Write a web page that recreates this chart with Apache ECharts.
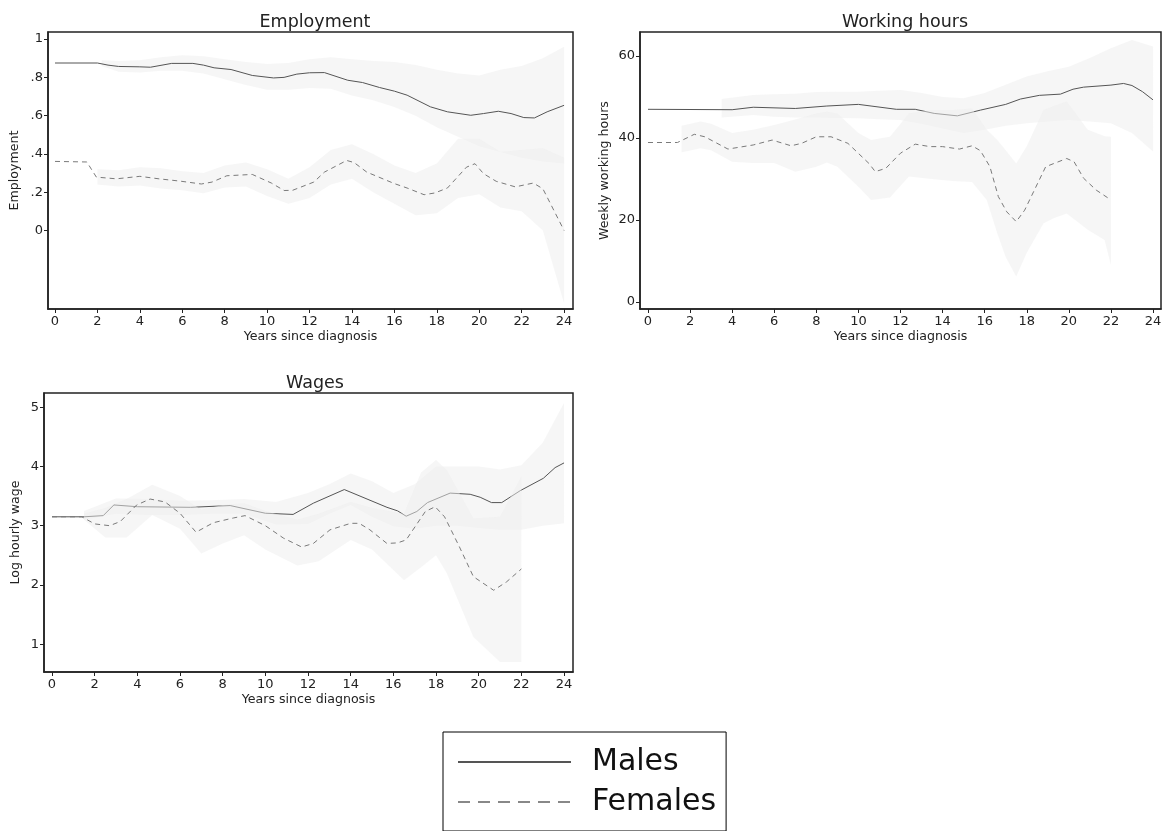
<!DOCTYPE html>
<html>
<head>
<meta charset="utf-8">
<script src="https://cdn.jsdelivr.net/npm/echarts@6/dist/echarts.min.js"></script>
<style>
  html, body { margin: 0; padding: 0; background: #fff; }
  #chart { width: 1165px; height: 831px; }
</style>
</head>
<body>
<div id="chart"></div>
<script>
// data (years since diagnosis on x)
const yearTicks = [0, 2, 4, 6, 8, 10, 12, 14, 16, 18, 20, 22, 24]

// Employment
const empMaleX = [0, 2, 2.5, 3, 4, 4.5, 5.5, 6.5, 7, 7.5, 8.3, 9.3, 10.3, 10.8, 11.4, 12, 12.7, 13.8, 14.5, 15.3, 16, 16.6, 17.7, 18.5, 19.6, 20.2, 20.9, 21.5, 22.1, 22.6, 23.2, 24]
const empMale = [0.875, 0.875, 0.864, 0.857, 0.855, 0.853, 0.873, 0.873, 0.864, 0.85, 0.841, 0.81, 0.797, 0.8, 0.817, 0.824, 0.825, 0.785, 0.773, 0.747, 0.728, 0.707, 0.646, 0.62, 0.602, 0.611, 0.623, 0.611, 0.59, 0.588, 0.62, 0.654]
const empFemaleX = [0, 1.5, 1.95, 2.9, 4, 4.9, 5.9, 6.9, 7.4, 8.1, 9.3, 10.2, 10.8, 11.2, 12.2, 12.7, 13.75, 14.1, 14.7, 16, 16.6, 17.4, 17.9, 18.5, 19.4, 19.8, 20.2, 20.8, 21.7, 22.55, 23, 24]
const empFemale = [0.361, 0.358, 0.279, 0.27, 0.283, 0.27, 0.258, 0.243, 0.253, 0.286, 0.293, 0.248, 0.209, 0.21, 0.253, 0.305, 0.366, 0.355, 0.305, 0.245, 0.222, 0.187, 0.196, 0.222, 0.331, 0.349, 0.297, 0.257, 0.228, 0.248, 0.218, 0.0]
const empMaleBandX = [2.2, 3, 4, 5, 6, 7, 8, 9, 10, 11, 12, 13, 14, 15, 16, 17, 18, 19, 20, 21, 22, 23, 24]
const empMaleHi = [0.89, 0.885, 0.89, 0.905, 0.915, 0.91, 0.895, 0.88, 0.87, 0.875, 0.895, 0.905, 0.895, 0.885, 0.88, 0.865, 0.84, 0.82, 0.81, 0.84, 0.86, 0.9, 0.96]
const empMaleLo = [0.86, 0.83, 0.825, 0.835, 0.835, 0.82, 0.79, 0.76, 0.735, 0.735, 0.745, 0.74, 0.705, 0.68, 0.645, 0.6, 0.54, 0.49, 0.44, 0.41, 0.38, 0.36, 0.35]
const empFemaleBandX = [2, 3, 4, 5, 6, 7, 8, 9, 10, 11, 12, 13, 14, 15, 16, 17, 18, 19, 20, 21, 22, 23, 24]
const empFemaleHi = [0.32, 0.315, 0.33, 0.325, 0.31, 0.3, 0.34, 0.355, 0.32, 0.27, 0.33, 0.42, 0.45, 0.4, 0.34, 0.3, 0.35, 0.48, 0.48, 0.41, 0.42, 0.43, 0.38]
const empFemaleLo = [0.24, 0.23, 0.235, 0.22, 0.21, 0.195, 0.225, 0.23, 0.18, 0.14, 0.17, 0.24, 0.27, 0.2, 0.14, 0.08, 0.09, 0.17, 0.19, 0.12, 0.1, 0.0, -0.38]
const empTicks = [0, 0.2, 0.4, 0.6, 0.8, 1]

// Working hours
const whMaleX = [0, 4, 5, 7, 8.5, 10, 10.6, 11.8, 12.7, 13.6, 14.7, 15.8, 17, 17.7, 18.6, 19.6, 20.2, 20.7, 22, 22.6, 23, 23.5, 24]
const whMale = [47, 46.9, 47.5, 47.2, 47.8, 48.2, 47.8, 47.0, 47.0, 46.0, 45.4, 46.8, 48.2, 49.5, 50.4, 50.7, 51.9, 52.4, 52.9, 53.3, 52.8, 51.3, 49.3]
const whFemaleX = [0, 1.4, 2.2, 2.7, 3.8, 5, 5.9, 6.8, 7.3, 8, 8.7, 9.5, 10.5, 10.8, 11.3, 12, 12.7, 13.4, 14, 14.8, 15.4, 15.8, 16.25, 16.65, 17.05, 17.5, 17.9, 18.9, 19.3, 19.9, 20.25, 20.7, 21.3, 22]
const whFemale = [38.9, 38.9, 40.9, 40.3, 37.3, 38.3, 39.5, 38.1, 38.7, 40.3, 40.3, 38.7, 33.8, 31.8, 32.6, 36.3, 38.5, 37.9, 37.9, 37.3, 38.1, 36.9, 33.0, 25.7, 22.0, 19.6, 22.4, 33.0, 33.8, 35.0, 34.2, 30.2, 27.3, 24.9]
const whMaleBandX = [3.5, 5, 6, 7, 8, 9, 10, 11, 12, 13, 14, 15, 16, 17, 18, 19, 20, 21, 22, 23, 24]
const whMaleHi = [49.5, 50.5, 50.7, 50.8, 51.2, 51.3, 51.3, 51.5, 51.7, 51, 50, 49.7, 51, 53, 55, 56.3, 57.4, 59.5, 61.9, 63.9, 62.3]
const whMaleLo = [45, 45.6, 45.2, 45, 45, 44.9, 44.8, 44.6, 44.4, 43.5, 42.3, 41.2, 42, 43, 43.6, 44, 44.4, 44, 43.6, 41.2, 36.7]
const whFemaleBandX = [1.6, 2.5, 3, 4, 5, 6, 7, 8, 8.5, 9, 10, 10.6, 11.5, 12.4, 13.5, 14.5, 15.4, 16.1, 16.6, 17, 17.5, 18, 18.8, 19.3, 19.9, 20.9, 21.7, 22]
const whFemaleHi = [43, 44, 43.5, 41.2, 42, 43.2, 44.5, 46, 46.4, 46, 41.2, 39.5, 40.3, 46, 46.8, 46.8, 47.2, 42, 39.5, 37, 33.8, 38, 46.8, 47.8, 48.9, 42, 40.4, 40.3]
const whFemaleLo = [36.5, 37.5, 37, 34.2, 33.9, 33.9, 31.8, 33, 34, 33, 28.1, 24.9, 25.5, 30.6, 30, 29.5, 29.3, 24.9, 16.8, 11, 6.2, 12, 19.2, 20.5, 21.6, 17.6, 15.1, 9.0]
const whTicks = [0, 20, 40, 60]

// Wages
const wgMaleX = [0, 1.5, 2.4, 2.9, 4, 6.5, 8.35, 10, 11.3, 12.25, 13.7, 15.7, 16.2, 16.6, 17.1, 17.6, 18.66, 19.6, 20.07, 20.6, 21.08, 21.94, 23.03, 23.58, 24]
const wgMale = [3.15, 3.15, 3.17, 3.35, 3.32, 3.31, 3.34, 3.21, 3.19, 3.38, 3.61, 3.31, 3.25, 3.16, 3.24, 3.39, 3.55, 3.53, 3.48, 3.39, 3.39, 3.59, 3.8, 3.98, 4.06]
const wgFemaleX = [0, 1.4, 2.0, 2.7, 3.2, 3.97, 4.6, 5.3, 6.0, 6.75, 7.56, 8.5, 9.05, 10, 10.85, 11.7, 12.25, 13.03, 14.0, 14.4, 14.9, 15.7, 16.2, 16.6, 17.5, 17.96, 18.4, 19.1, 19.75, 20.7, 21.3, 22.0]
const wgFemale = [3.15, 3.15, 3.03, 3.0, 3.07, 3.35, 3.45, 3.4, 3.21, 2.89, 3.05, 3.13, 3.17, 3.0, 2.79, 2.64, 2.7, 2.93, 3.04, 3.04, 2.93, 2.7, 2.71, 2.76, 3.24, 3.32, 3.15, 2.64, 2.14, 1.91, 2.05, 2.27]
const wgMaleBandX = [1.5, 3, 4.5, 6, 7.5, 9, 10.5, 12, 13, 14, 15, 16, 17, 18, 19, 20, 21, 22, 23, 24]
const wgMaleHi = [3.25, 3.46, 3.45, 3.42, 3.43, 3.45, 3.4, 3.55, 3.7, 3.88, 3.75, 3.55, 3.7, 4.0, 4.0, 4.0, 3.95, 4.02, 4.4, 5.07]
const wgMaleLo = [3.1, 3.2, 3.18, 3.18, 3.2, 3.2, 3.02, 3.03, 3.2, 3.35, 3.15, 2.99, 2.95, 3.0, 3.0, 2.96, 2.93, 2.93, 3.0, 3.04]
const wgFemaleBandX = [1.5, 2.5, 3.5, 4.7, 6, 7, 8, 9, 10, 11.5, 12.5, 14, 15, 16.5, 17.3, 18, 18.5, 19.75, 21, 22]
const wgFemaleHi = [3.2, 3.3, 3.45, 3.69, 3.5, 3.27, 3.35, 3.38, 3.25, 3.1, 3.2, 3.4, 3.3, 3.2, 3.9, 4.11, 3.94, 3.12, 3.15, 3.83]
const wgFemaleLo = [3.1, 2.8, 2.8, 3.18, 2.95, 2.53, 2.7, 2.84, 2.6, 2.33, 2.4, 2.76, 2.6, 2.08, 2.3, 2.5, 2.2, 1.12, 0.7, 0.7]
const wgTicks = [1, 2, 3, 4, 5]

const font = 'DejaVu Sans'
const maleColor = '#555'
const femaleColor = '#7a7a7a'
// the confidence band is a washed-out grey laid over what is under it
const bandFill = 'rgba(237,237,237,0.5)'

const pairs = (xs, ys) => xs.map((x, i) => [x, ys[i]])

function bandSeries(idx, xs, lo, hi, z) {
  return {
    type: 'custom',
    xAxisIndex: idx,
    yAxisIndex: idx,
    silent: true,
    z: z,
    data: xs.map((x, i) => [x, lo[i], hi[i]]),
    encode: { x: 0, y: [1, 2] },
    renderItem: function (params, api) {
      if (params.dataIndex !== 0) return null
      const pts = []
      for (let i = 0; i < xs.length; i++) pts.push(api.coord([xs[i], hi[i]]))
      for (let i = xs.length - 1; i >= 0; i--) pts.push(api.coord([xs[i], lo[i]]))
      return { type: 'polygon', shape: { points: pts }, style: { fill: bandFill } }
    }
  }
}

function lineSeries(idx, name, xs, ys, female, z) {
  return {
    type: 'line',
    name: name,
    xAxisIndex: idx,
    yAxisIndex: idx,
    data: pairs(xs, ys),
    symbol: 'none',
    silent: true,
    z: z,
    lineStyle: female
      ? { color: femaleColor, width: 1, type: [5, 4] }
      : { color: maleColor, width: 1 },
    itemStyle: { color: female ? femaleColor : maleColor }
  }
}

function xAxisFor(idx, min, max) {
  return {
    type: 'value', gridIndex: idx, min: min, max: max,
    name: 'Years since diagnosis', nameLocation: 'middle', nameGap: 21,
    nameTextStyle: { fontFamily: font, fontSize: 12.6, color: '#222' },
    axisLine: { show: true, onZero: false, lineStyle: { color: '#222', width: 1.5 } },
    axisTick: { show: true, length: 4, customValues: yearTicks, lineStyle: { color: '#222' } },
    axisLabel: { customValues: yearTicks, fontFamily: font, fontSize: 13, color: '#222', margin: 6 },
    splitLine: { show: false }
  }
}

function yAxisFor(idx, min, max, ticks, name, gap, fmt) {
  return {
    type: 'value', gridIndex: idx, min: min, max: max,
    name: name, nameLocation: 'middle', nameGap: gap, nameRotate: 90,
    nameTextStyle: { fontFamily: font, fontSize: 12.6, color: '#222' },
    axisLine: { show: true, onZero: false, lineStyle: { color: '#222', width: 1.5 } },
    axisTick: { show: true, length: 4, customValues: ticks, lineStyle: { color: '#222' } },
    axisLabel: { customValues: ticks, fontFamily: font, fontSize: 13, color: '#222', margin: 5, formatter: fmt },
    splitLine: { show: false }
  }
}

const chart = echarts.init(document.getElementById('chart'))

const gridBox = { show: true, borderColor: '#222', borderWidth: 1.5, backgroundColor: 'transparent' }
const titleStyle = { fontFamily: font, fontSize: 17.5, fontWeight: 'normal', color: '#222' }

const option = {
  animation: false,
  backgroundColor: '#fff',
  title: [
    { text: 'Employment', left: 310, top: 8, textAlign: 'center', textStyle: titleStyle },
    { text: 'Working hours', left: 900, top: 8, textAlign: 'center', textStyle: titleStyle },
    { text: 'Wages', left: 310, top: 369, textAlign: 'center', textStyle: titleStyle }
  ],
  grid: [
    Object.assign({ left: 48, top: 32, width: 525, height: 277 }, gridBox),
    Object.assign({ left: 640, top: 32, width: 521, height: 277 }, gridBox),
    Object.assign({ left: 44, top: 393, width: 529, height: 279 }, gridBox)
  ],
  xAxis: [
    xAxisFor(0, -0.33, 24.42),
    xAxisFor(1, -0.38, 24.38),
    xAxisFor(2, -0.375, 24.42)
  ],
  yAxis: [
    yAxisFor(0, -0.41, 1.037, empTicks, 'Employment', 27, v => v === 0 ? '0' : v === 1 ? '1' : String(+v.toFixed(1)).replace('0.', '.')),
    yAxisFor(1, -1.7, 65.85, whTicks, 'Weekly working hours', 29, v => String(v)),
    yAxisFor(2, 0.53, 5.24, wgTicks, 'Log hourly wage', 22, v => String(v))
  ],
  legend: {
    data: [
      { name: 'Males', lineStyle: { color: '#555', width: 2 } },
      { name: 'Females', lineStyle: { color: '#888', width: 2, type: [12, 8] } }
    ],
    orient: 'vertical',
    left: 443,
    top: 732,
    padding: [15, 10, 14, 14],
    itemGap: 10,
    itemWidth: 113,
    itemHeight: 20,
    borderColor: '#000',
    borderWidth: 1,
    selectedMode: false,
    itemStyle: { opacity: 0 },
    textStyle: { fontFamily: font, fontSize: 30, color: '#111', padding: [0, 0, 0, 16] }
  },
  // drawing order: male band, male line, female band, female line
  series: [
    bandSeries(0, empMaleBandX, empMaleLo, empMaleHi, 1),
    lineSeries(0, 'Males', empMaleX, empMale, false, 2),
    bandSeries(0, empFemaleBandX, empFemaleLo, empFemaleHi, 3),
    lineSeries(0, 'Females', empFemaleX, empFemale, true, 4),

    bandSeries(1, whMaleBandX, whMaleLo, whMaleHi, 1),
    lineSeries(1, 'Males', whMaleX, whMale, false, 2),
    bandSeries(1, whFemaleBandX, whFemaleLo, whFemaleHi, 3),
    lineSeries(1, 'Females', whFemaleX, whFemale, true, 4),

    bandSeries(2, wgMaleBandX, wgMaleLo, wgMaleHi, 1),
    lineSeries(2, 'Males', wgMaleX, wgMale, false, 2),
    bandSeries(2, wgFemaleBandX, wgFemaleLo, wgFemaleHi, 3),
    lineSeries(2, 'Females', wgFemaleX, wgFemale, true, 4)
  ]
}
chart.setOption(option)
</script>
</body>
</html>
